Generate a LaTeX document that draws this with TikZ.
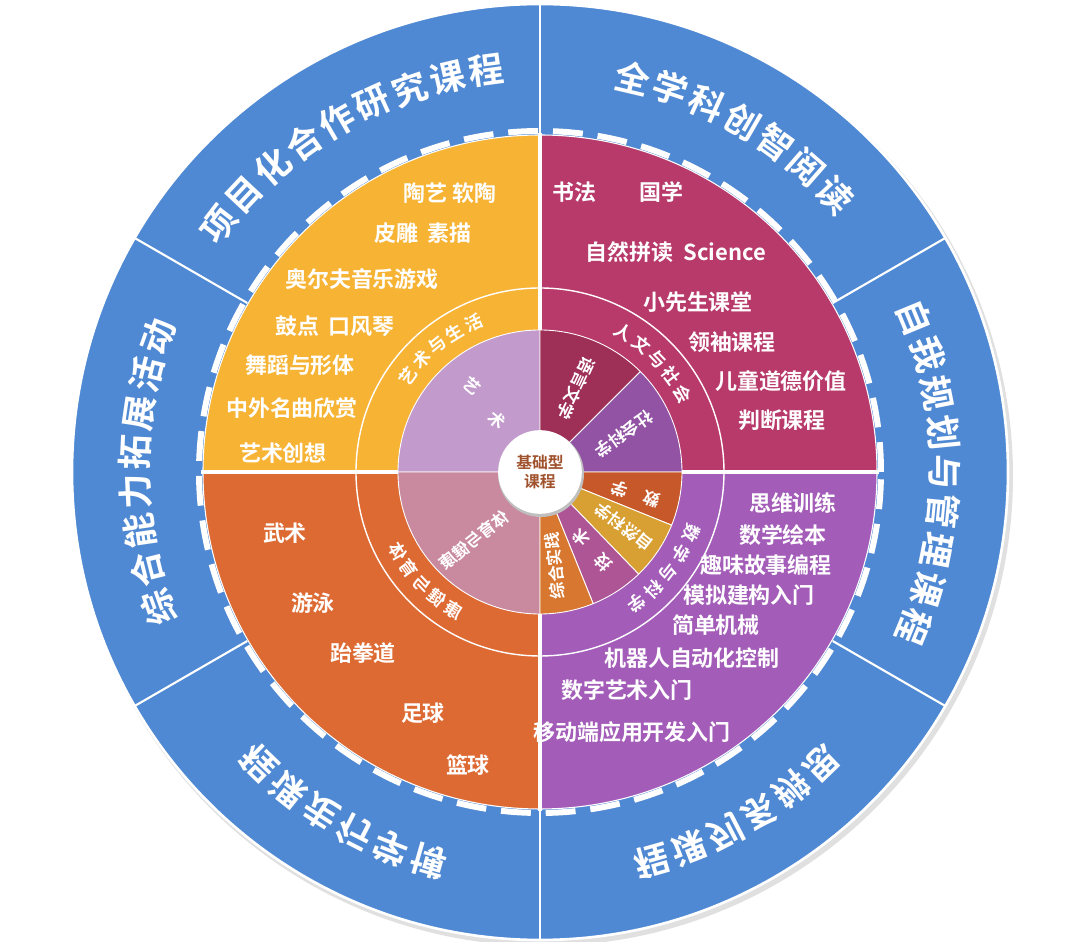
\documentclass[tikz,border=0pt]{standalone}
\usepackage{fontspec}
\setmainfont{Noto Sans CJK SC}[BoldFont={* Bold}]
\definecolor{ringblue}{HTML}{5089D3}
\definecolor{artyel}{HTML}{F7B334}
\definecolor{humred}{HTML}{B83A6A}
\definecolor{sportor}{HTML}{DE6A33}
\definecolor{scipur}{HTML}{A35DB8}
\definecolor{pieart}{HTML}{C29ACB}
\definecolor{pielang}{HTML}{9E2F57}
\definecolor{piesoc}{HTML}{9353A5}
\definecolor{piesport}{HTML}{C98A9F}
\definecolor{piemath}{HTML}{C7582A}
\definecolor{pienat}{HTML}{D8A032}
\definecolor{pietech}{HTML}{AE5595}
\definecolor{pieprac}{HTML}{D77730}
\definecolor{corebrown}{HTML}{A0522D}
\tikzset{
  item/.style={text=white,font=\bfseries\fontsize{12.5}{14}\selectfont,inner sep=0pt},
  outer/.style={text=white,font=\bfseries\fontsize{20}{22}\selectfont,inner sep=0pt},
  ringtxt/.style={text=white,font=\bfseries\fontsize{10}{11}\selectfont,inner sep=0pt},
  pietxt/.style={text=white,font=\bfseries\fontsize{9.5}{11}\selectfont,inner sep=0pt},
  sep/.style={draw=white,line width=0.8pt}
}
\newcommand\piesect[3]{\fill[#1,sep,line width=0.5pt] (0,0) -- (#2:142) arc (#2:#3:142) -- cycle;}
\begin{document}
\begin{tikzpicture}[x=0.02cm,y=0.02cm]
\useasboundingbox (-540,-470) rectangle (540,472);
% outer ring
\fill[black!12] (3,-4) circle (470);
\fill[ringblue,draw=white,line width=1.5pt] (0,0) circle (468);
\foreach \a in {30,90,...,330}
  \draw[white,line width=1.2pt] (\a:338) -- (\a:468);
% quadrants
\fill[humred] (0,0) -- (0:337) arc (0:90:337) -- cycle;
\fill[artyel] (0,0) -- (90:337) arc (90:180:337) -- cycle;
\fill[sportor] (0,0) -- (180:337) arc (180:270:337) -- cycle;
\fill[scipur] (0,0) -- (270:337) arc (270:360:337) -- cycle;
\draw[white,line width=0.6pt] (0,0) circle (337);
\draw[white,line width=3.4pt,dash pattern=on 17pt off 8.5pt] (0,0) circle (341);
\draw[white,line width=0.8pt] (0,0) circle (184);
\foreach \a in {0,90,180,270}
  \draw[white,line width=2pt] (0,0) -- (\a:339);
% inner pie
\piesect{pieart}{90}{180}
\piesect{pielang}{45}{90}
\piesect{piesoc}{0}{45}
\piesect{piesport}{180}{270}
\piesect{piemath}{-22}{0}
\piesect{pienat}{-46}{-22}
\piesect{pietech}{-68}{-46}
\piesect{pieprac}{-90}{-68}
\fill[black!25] (1,-2) circle (43);
\node[circle,fill=white,minimum size=84*0.567pt,inner sep=0pt,
  text=corebrown,font=\bfseries\fontsize{9}{11}\selectfont,align=center] (core) at (0,0) {基础型\\课程};
% outer labels
\foreach \c [count=\i] in {项,目,化,合,作,研,究,课,程}
  \node[outer,rotate=120+22.4-(\i-1)*5.6-90] (p\i) at ({120+22.4-(\i-1)*5.6}:405) {\c};
\foreach \c [count=\i] in {全,学,科,创,智,阅,读}
  \node[outer,rotate=60+16.8-(\i-1)*5.6-90] (q\i) at ({60+16.8-(\i-1)*5.6}:405) {\c};
\foreach \c [count=\i] in {自,我,规,划,与,管,理,课,程}
  \node[outer,rotate=22.4-(\i-1)*5.6-90] (r\i) at ({22.4-(\i-1)*5.6}:405) {\c};
\foreach \c [count=\i] in {思,辨,系,列,课,程}
  \node[outer,rotate=300+14-(\i-1)*5.6-90,xscale=-1] (s\i) at ({300+14-(\i-1)*5.6}:405) {\c};
\foreach \c [count=\i] in {博,学,行,走,课,程}
  \node[outer,rotate=240+14-(\i-1)*5.6-90,xscale=-1] (t\i) at ({240+14-(\i-1)*5.6}:405) {\c};
\foreach \c [count=\i] in {综,合,能,力,拓,展,活,动}
  \node[outer,rotate=180+19.6-(\i-1)*5.6-90] (u\i) at ({180+19.6-(\i-1)*5.6}:405) {\c};
% ring labels
\foreach \c [count=\i] in {艺,术,与,生,活}
  \node[ringtxt,rotate=129+15-(\i-1)*7.5-90] (ra\i) at ({129+15-(\i-1)*7.5}:163) {\c};
\foreach \c [count=\i] in {人,文,与,社,会}
  \node[ringtxt,rotate=44+15.2-(\i-1)*7.6-90] (rb\i) at ({44+15.2-(\i-1)*7.6}:163) {\c};
\foreach \c [count=\i] in {数,学,与,科,学}
  \node[ringtxt,rotate=-38+15.8-(\i-1)*7.9-90] (rc\i) at ({-38+15.8-(\i-1)*7.9}:163) {\c};
\foreach \c [count=\i] in {体,育,与,健,康}
  \node[ringtxt,rotate=223.5-14.4+(\i-1)*7.2+90,xscale=-1] (rd\i) at ({223.5-14.4+(\i-1)*7.2}:163) {\c};
% pie labels
\node[pietxt,rotate=-40] (art1) at (-68,86) {艺};
\node[pietxt,rotate=-40] (art2) at (-43,52) {术};
\node[pietxt,rotate=-115] (lang) at (36,84) {语言文学};
\node[pietxt,rotate=-145] (soc) at (84,38) {社会科学};
\node[pietxt,rotate=38,xscale=-1] (sport) at (-66,-68) {体育与健康};
\node[pietxt,rotate=163] (math) at (96,-22) {数\quad 学};
\node[pietxt,rotate=142] (nat) at (84,-55) {自然科学};
\node[pietxt,rotate=132] (tech) at (52,-78) {技\quad 术};
\node[pietxt,rotate=96] (prac) at (15,-94) {综合实践};
% course items
\node[item] (y1) at (-90,279) {陶艺 软陶};
\node[item] (y2) at (-117,239) {皮雕\ \ 素描};
\node[item] (y3) at (-178,193) {奥尔夫音乐游戏};
\node[item] (y4) at (-205,146) {鼓点\ \ 口风琴};
\node[item] (y5) at (-240,107) {舞蹈与形体};
\node[item] (y6) at (-248,64) {中外名曲欣赏};
\node[item] (y7) at (-257,19) {艺术创想};
\node[item] (m1) at (78,280) {书法\qquad 国学};
\node[item] (m2) at (136,220) {自然拼读\ \ Science};
\node[item] (m3) at (158,170) {小先生课堂};
\node[item] (m4) at (192,130) {领袖课程};
\node[item] (m5) at (241,91) {儿童道德价值};
\node[item] (m6) at (242,52) {判断课程};
\node[item] (v1) at (253,-31) {思维训练};
\node[item] (v2) at (243,-63) {数学绘本};
\node[item] (v3) at (226,-93) {趣味故事编程};
\node[item] (v4) at (209,-123) {模拟建构入门};
\node[item] (v5) at (176,-153) {简单机械};
\node[item] (v6) at (152,-186) {机器人自动化控制};
\node[item] (v7) at (87,-218) {数字艺术入门};
\node[item] (v8) at (92,-260) {移动端应用开发入门};
\node[item] (o1) at (-255,-61) {武术};
\node[item] (o2) at (-227,-131) {游泳};
\node[item] (o3) at (-177,-181) {跆拳道};
\node[item] (o4) at (-117,-241) {足球};
\node[item] (o5) at (-72,-293) {篮球};
\end{tikzpicture}
\end{document}
